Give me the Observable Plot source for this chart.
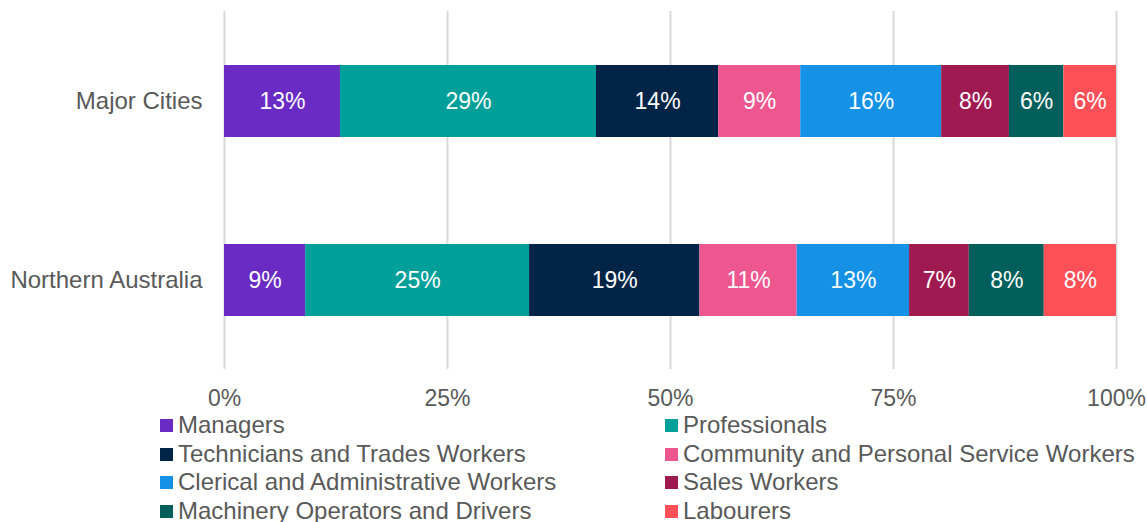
<!DOCTYPE html>
<html>
<head>
<meta charset="utf-8">
<script src="https://cdn.jsdelivr.net/npm/d3@7"></script>
<script src="https://cdn.jsdelivr.net/npm/@observablehq/plot@0.6"></script>
<style>
  html, body { margin: 0; padding: 0; background: #fff; }
  body { width: 1147px; height: 522px; overflow: hidden; font-family: "Liberation Sans", Arial, sans-serif; }
  #legend { position: relative; height: 111px; }
  .item { position: absolute; font-size: 24px; line-height: 28px; color: #595959; white-space: nowrap; }
  .sw { display: inline-block; width: 13px; height: 13px; margin-right: 5px; vertical-align: 1px; }
</style>
</head>
<body>
<div id="chart"></div>
<div id="legend"></div>
<script>
const regions = ["Major Cities", "Northern Australia"];
const occupations = [
  "Managers",
  "Professionals",
  "Technicians and Trades Workers",
  "Community and Personal Service Workers",
  "Clerical and Administrative Workers",
  "Sales Workers",
  "Machinery Operators and Drivers",
  "Labourers"
];
const majorCities = [13.0, 28.7, 13.7, 9.2, 15.8, 7.6, 6.1, 5.9];
const northernAustralia = [9.1, 25.1, 19.1, 10.9, 12.6, 6.7, 8.4, 8.1];
const colors = ["#692BC4", "#009F99", "#012447", "#EE5690", "#1592E6", "#A01A52", "#005F5A", "#FF5057"];
const xTicks = [0, 25, 50, 75, 100];

const data = [];
occupations.forEach((o, i) => {
  data.push({region: regions[0], occupation: o, value: majorCities[i]});
  data.push({region: regions[1], occupation: o, value: northernAustralia[i]});
});

const chart = Plot.plot({
  width: 1147,
  height: 411,
  marginLeft: 224,
  marginRight: 31,
  marginTop: 11,
  marginBottom: 42,
  style: {fontFamily: "'Liberation Sans', Arial, sans-serif", color: "#595959", background: "#fff"},
  x: {domain: [0, 100], ticks: xTicks},
  y: {domain: regions, paddingInner: 0.6, paddingOuter: 0.3},
  color: {domain: occupations, range: colors},
  marks: [
    Plot.gridX(xTicks, {stroke: "#d9d9d9", strokeOpacity: 1, strokeWidth: 2}),
    Plot.barX(data, Plot.stackX({x: "value", y: "region", fill: "occupation", z: "occupation", order: occupations})),
    Plot.text(data, Plot.stackX({x: "value", y: "region", z: "occupation", order: occupations,
      text: d => Math.round(d.value) + "%", fill: "#fff", fontSize: 23})),
    Plot.axisX({ticks: xTicks, tickFormat: d => d + "%", tickSize: 0, tickPadding: 20, fontSize: 23, label: null, color: "#595959"}),
    Plot.axisY({tickSize: 0, tickPadding: 22, fontSize: 24, label: null, color: "#595959"})
  ]
});
document.getElementById("chart").appendChild(chart);

const legend = document.getElementById("legend");
occupations.forEach((o, i) => {
  const col = i % 2, row = Math.floor(i / 2);
  const el = document.createElement("div");
  el.className = "item";
  el.style.left = (col === 0 ? 160 : 665) + "px";
  el.style.top = (row * 28.5) + "px";
  el.innerHTML = `<span class="sw" style="background:${colors[i]}"></span>${o}`;
  legend.appendChild(el);
});
</script>
</body>
</html>
